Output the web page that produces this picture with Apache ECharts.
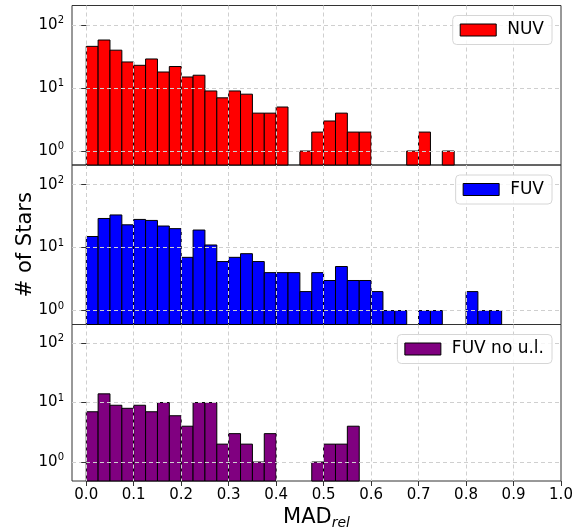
<!DOCTYPE html>
<html>
<head>
<meta charset="utf-8">
<script src="https://cdn.jsdelivr.net/npm/echarts@6/dist/echarts.min.js"></script>
<style>
  html, body { margin: 0; padding: 0; background: #fff; }
  #chart { width: 576px; height: 531px; }
</style>
</head>
<body>
<div id="chart"></div>
<script>
// histogram bins start at 0 and are 0.025 wide
const binWidth = 0.025
const nuvCounts = [46, 58, 40, 26, 23, 29, 18, 22, 15, 16, 9, 7, 9, 8, 4, 4, 5, 0, 1, 2, 3, 4, 2, 2, 0, 0, 0, 1, 2, 0, 1]
const fuvCounts = [15, 29, 33, 23, 28, 27, 22, 20, 7, 19, 11, 6, 7, 8, 6, 4, 4, 4, 2, 4, 3, 5, 3, 3, 2, 1, 1, 0, 1, 1, 0, 0, 2, 1, 1]
const fuvNoUlCounts = [7, 14, 9, 8, 9, 7, 10, 6, 4, 10, 10, 2, 3, 2, 1, 3, 0, 0, 0, 1, 2, 2, 4]
const xTickLabels = ['0.0', '0.1', '0.2', '0.3', '0.4', '0.5', '0.6', '0.7', '0.8', '0.9', '1.0']

const font = 'DejaVu Sans'
const gridTops = [5.5, 165, 324.5]
const yMins = [0.6, 0.6, 0.48]
const yMax = 205

const panels = [
  { name: 'NUV', color: '#ff0000', counts: nuvCounts },
  { name: 'FUV', color: '#0000ff', counts: fuvCounts },
  { name: 'FUV no u.l.', color: '#800080', counts: fuvNoUlCounts }
]

function toBins(counts) {
  return counts
    .map((c, i) => [i * binWidth, (i + 1) * binWidth, c])
    .filter(d => d[2] > 0)
}

const gridLine = { show: true, showMinLine: false, showMaxLine: false, lineStyle: { color: '#cfcfcf', type: [4, 3], width: 1 } }

const chart = echarts.init(document.getElementById('chart'), null, { renderer: 'canvas' })

chart.setOption({
  animation: false,
  textStyle: { fontFamily: font },
  grid: panels.map((p, i) => ({
    left: 72,
    right: 15,
    top: gridTops[i],
    height: 159.5,
    show: true,
    borderColor: '#333',
    borderWidth: 1,
    backgroundColor: 'transparent'
  })),
  legend: panels.map((p, i) => ({
    data: [{ name: p.name, icon: 'rect', itemStyle: { color: p.color, borderColor: '#000', borderWidth: 1 } }],
    right: 24,
    top: gridTops[i] + 10,
    itemWidth: 36,
    itemHeight: 12,
    padding: [6, 8, 6, 7],
    backgroundColor: 'rgba(255,255,255,0.8)',
    borderColor: '#d6d6d6',
    borderWidth: 1,
    borderRadius: 4,
    selectedMode: false,
    textStyle: { fontFamily: font, fontSize: 17, color: '#000', padding: [0, 0, 0, 6] }
  })),
  xAxis: panels.map((p, i) => ({
    type: 'value',
    gridIndex: i,
    min: -0.03,
    max: 1.0,
    splitNumber: 10,
    z: 3,
    axisLine: { show: false },
    axisTick: { show: i === 2, length: 5, lineStyle: { color: '#333' } },
    axisLabel: {
      show: i === 2,
      showMinLabel: false,
      fontFamily: font,
      fontSize: 15,
      color: '#000',
      margin: 7,
      formatter: v => {
        const k = Math.round(v * 10)
        return Math.abs(v * 10 - k) < 1e-6 && k >= 0 ? xTickLabels[k] : ''
      }
    },
    splitLine: gridLine,
    name: i === 2 ? 'MAD{sub|rel}' : '',
    nameLocation: 'middle',
    nameGap: 24,
    nameMoveOverlap: false,
    nameTextStyle: {
      fontFamily: font,
      fontSize: 21,
      color: '#000',
      rich: { sub: { fontFamily: font, fontSize: 14, fontStyle: 'italic', color: '#000', padding: [11, 0, 0, 0] } }
    }
  })),
  yAxis: panels.map((p, i) => ({
    type: 'log',
    logBase: 10,
    gridIndex: i,
    min: yMins[i],
    max: yMax,
    z: 3,
    axisLine: { show: false },
    axisTick: { show: true, length: 5, lineStyle: { color: '#333' } },
    axisLabel: {
      fontFamily: font,
      fontSize: 15,
      color: '#000',
      margin: 8,
      showMinLabel: false,
      showMaxLabel: false,
      formatter: v => {
        const e = Math.log10(v)
        return Math.abs(e - Math.round(e)) < 1e-6 ? '10{sup|' + Math.round(e) + '}' : ''
      },
      rich: { sup: { fontFamily: font, fontSize: 10, color: '#000', padding: [0, 0, 9, 0] } }
    },
    splitLine: gridLine,
    name: i === 1 ? '# of Stars' : '',
    nameLocation: 'middle',
    nameGap: 36,
    nameMoveOverlap: false,
    nameTextStyle: { fontFamily: font, fontSize: 21, color: '#000' }
  })),
  series: panels.map((p, i) => ({
    type: 'custom',
    name: p.name,
    xAxisIndex: i,
    yAxisIndex: i,
    z: 1,
    itemStyle: { color: p.color, borderColor: '#000', borderWidth: 1 },
    encode: { x: [0, 1], y: 2 },
    data: toBins(p.counts),
    renderItem: (params, api) => {
      const top = api.coord([api.value(0), api.value(2)])
      const bottom = api.coord([api.value(1), yMins[i]])
      return {
        type: 'rect',
        shape: { x: top[0], y: top[1], width: bottom[0] - top[0], height: bottom[1] - top[1] },
        style: { fill: p.color, stroke: '#000', lineWidth: 1 }
      }
    }
  }))
})
</script>
</body>
</html>
